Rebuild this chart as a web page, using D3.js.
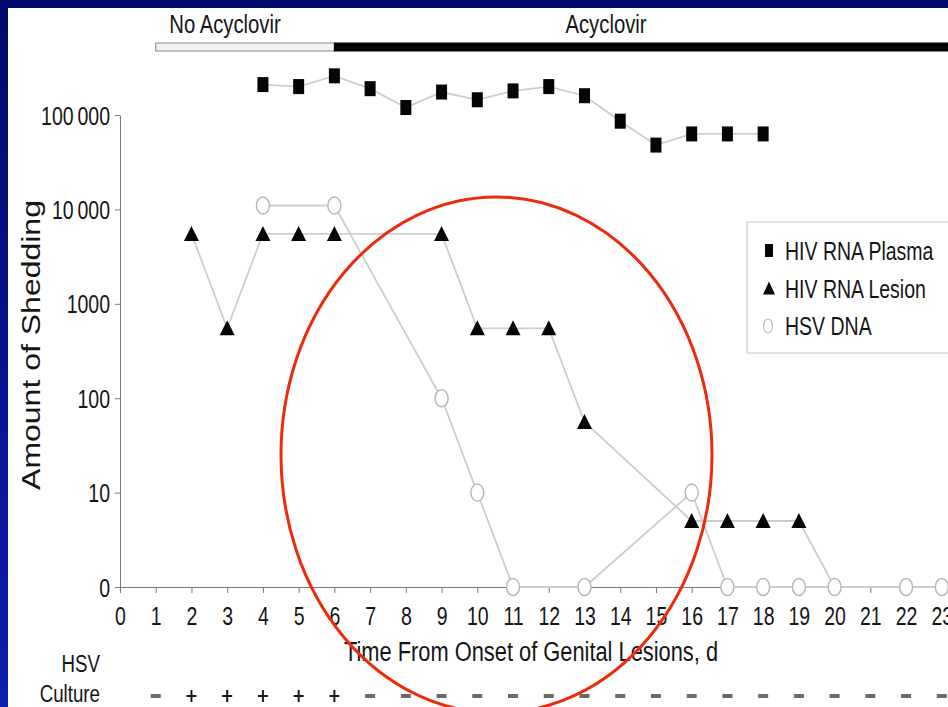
<!DOCTYPE html>
<html>
<head>
<meta charset="utf-8">
<script src="https://cdn.jsdelivr.net/npm/d3@7"></script>
<style>
  body { margin: 0; background: #fff; }
  text { font-family: "Liberation Sans", Arial, Helvetica, sans-serif; fill: #151515; }
</style>
</head>
<body>
<div id="chart"></div>
<script>
// ---- data ----
var tickDays = [0,1,2,3,4,5,6,7,8,9,10,11,12,13,14,15,16,17,18,19,20,21,22,23];
var yTicks = [1, 10, 100, 1000, 10000, 100000];
var yTickLabels = ["0", "10", "100", "1000", "10\u2009000", "100\u2009000"];

var plasmaDays = [4,5,6,7,8,9,10,11,12,13,14,15,16,17,18];
var plasmaVals = [210000,200000,260000,190000,120000,175000,145000,180000,200000,160000,86000,48000,63000,63000,63000];

var lesionDays = [2,3,4,5,6,9,10,11,12,13,16,17,18,19,20];
var lesionVals = [5500,550,5500,5500,5500,5500,550,550,550,56,5,5,5,5,0];

var hsvDays = [4,6,9,10,11,13,16,17,18,19,20,22,23];
var hsvVals = [11000,11000,100,10,0,0,10,0,0,0,0,0,0];

var cultureDays = [1,2,3,4,5,6,7,8,9,10,11,12,13,14,15,16,17,18,19,20,21,22,23];
var cultureVals = ["-","+","+","+","+","+","-","-","-","-","-","-","-","-","-","-","-","-","-","-","-","-","-"];

var treatLabels = ["No Acyclovir", "Acyclovir"];
var treatStart = [1, 6];
var treatEnd = [6, 24];

var legendNames = ["HIV RNA Plasma", "HIV RNA Lesion", "HSV DNA"];

// ---- layout ----
var W = 948, H = 707;
var SX = 0.78; // the slide image is squeezed horizontally

var svg = d3.select("#chart").append("svg")
    .attr("width", W).attr("height", H);

var defs = svg.append("defs");
var grad = defs.append("linearGradient").attr("id", "blueBg")
    .attr("x1", 0).attr("y1", 0).attr("x2", 0).attr("y2", 1);
grad.append("stop").attr("offset", "0%").attr("stop-color", "#000a6c");
grad.append("stop").attr("offset", "100%").attr("stop-color", "#0c1fae");

svg.append("rect").attr("width", W).attr("height", H).attr("fill", "url(#blueBg)");
svg.append("rect").attr("x", 8).attr("y", 8).attr("width", W - 8).attr("height", H - 8).attr("fill", "#fff");

var x = d3.scaleLinear().domain([0, 23]).range([120, 941.8]);
var y = d3.scaleLog().domain([1, 100000]).range([587, 115]);
function yv(v) { return y(v < 1 ? 1 : v); }

// condensed text helper
function txt(g, px, py, s, size, anchor) {
    return g.append("text")
        .attr("transform", "translate(" + px + "," + py + ") scale(" + SX + ",1)")
        .attr("font-size", size)
        .attr("text-anchor", anchor || "middle")
        .text(s);
}

// treatment bars
var treat = svg.append("g");
treat.selectAll("rect")
    .data(treatLabels)
    .enter().append("rect")
    .attr("x", function (d, i) { return x(treatStart[i]); })
    .attr("y", 43)
    .attr("width", function (d, i) { return x(treatEnd[i]) - x(treatStart[i]); })
    .attr("height", 8)
    .attr("fill", function (d, i) { return i == 0 ? "#f2f2f2" : "#050505"; })
    .attr("stroke", function (d, i) { return i == 0 ? "#8a8a8a" : "#050505"; })
    .attr("stroke-width", 1);
var treatLabelX = [225, 606];
treatLabels.forEach(function (d, i) { txt(treat, treatLabelX[i], 33, d, 26); });

// axes
var axisColor = "#7a7a7a";
var xAxis = svg.append("g")
    .attr("transform", "translate(0," + y(1) + ")")
    .call(d3.axisBottom(x).tickValues(tickDays).tickFormat(d3.format("d")).tickSizeInner(6).tickSizeOuter(0));
xAxis.select(".domain").attr("stroke", axisColor).attr("d", "M120,0.5H" + W);
xAxis.selectAll(".tick line").attr("stroke", axisColor);
xAxis.selectAll(".tick text")
    .attr("y", 0).attr("dy", null)
    .attr("transform", "translate(0,38) scale(" + SX + ",1)")
    .attr("font-size", 25).attr("fill", "#151515");

var yAxis = svg.append("g")
    .attr("transform", "translate(" + x(0) + ",0)")
    .call(d3.axisLeft(y).tickValues(yTicks).tickFormat(function (d, i) { return yTickLabels[i]; }).tickSizeInner(5).tickSizeOuter(0));
yAxis.select(".domain").attr("stroke", axisColor);
yAxis.selectAll(".tick line").attr("stroke", axisColor);
yAxis.selectAll(".tick text")
    .attr("x", 0).attr("dy", null)
    .attr("transform", "translate(-10,9) scale(" + SX + ",1)")
    .attr("font-size", 25).attr("fill", "#151515");

// axis titles
txt(svg, 531, 661, "Time From Onset of Genital Lesions, d", 28);
svg.append("text")
    .attr("transform", "translate(40,345) scale(" + SX + ",1) rotate(-90)")
    .attr("font-size", 32)
    .attr("text-anchor", "middle")
    .text("Amount of Shedding");

// series
var lineColor = "#cdcdcd";
function pts(days, vals) { return days.map(function (d, i) { return { day: d, val: vals[i] }; }); }
var plasma = pts(plasmaDays, plasmaVals);
var lesion = pts(lesionDays, lesionVals);
var hsv = pts(hsvDays, hsvVals);

var line = d3.line().x(function (d) { return x(d.day); }).y(function (d) { return yv(d.val); });

var plot = svg.append("g");
[hsv, lesion, plasma].forEach(function (s) {
    plot.append("path").datum(s)
        .attr("d", line)
        .attr("fill", "none")
        .attr("stroke", lineColor)
        .attr("stroke-width", 1.8);
});

plot.selectAll(".sq").data(plasma).enter().append("rect")
    .attr("class", "sq")
    .attr("x", function (d) { return x(d.day) - 5.5; })
    .attr("y", function (d) { return yv(d.val) - 7.5; })
    .attr("width", 11).attr("height", 15)
    .attr("fill", "#050505");

var triPath = "M0,-8L7.5,7L-7.5,7Z";
plot.selectAll(".tri").data(lesion.filter(function (d) { return d.val > 0; })).enter().append("path")
    .attr("class", "tri")
    .attr("d", triPath)
    .attr("transform", function (d) { return "translate(" + x(d.day) + "," + yv(d.val) + ")"; })
    .attr("fill", "#050505");

plot.selectAll(".circ").data(hsv).enter().append("ellipse")
    .attr("class", "circ")
    .attr("cx", function (d) { return x(d.day); })
    .attr("cy", function (d) { return yv(d.val); })
    .attr("rx", 6.5).attr("ry", 8.5)
    .attr("fill", "#fff")
    .attr("stroke", "#b8b8b8")
    .attr("stroke-width", 1.5);

// legend
var legend = svg.append("g");
legend.append("rect")
    .attr("x", 747).attr("y", 222).attr("width", 230).attr("height", 131)
    .attr("fill", "#fff").attr("stroke", "#cfcfcf").attr("stroke-width", 1.2);
var legY = d3.scalePoint().domain(legendNames).range([251, 326]);
legend.append("rect").attr("x", 765).attr("y", legY(legendNames[0]) - 7).attr("width", 8).attr("height", 13).attr("fill", "#050505");
legend.append("path").attr("d", "M0,-7L6,6L-6,6Z")
    .attr("transform", "translate(769," + legY(legendNames[1]) + ")").attr("fill", "#050505");
legend.append("ellipse").attr("cx", 768).attr("cy", legY(legendNames[2])).attr("rx", 4.5).attr("ry", 7)
    .attr("fill", "#fff").attr("stroke", "#b8b8b8").attr("stroke-width", 1.2);
legendNames.forEach(function (d) { txt(legend, 785, legY(d) + 9, d, 25, "start"); });

// HSV culture row
var cult = svg.append("g");
txt(cult, 100, 672, "HSV", 24, "end");
txt(cult, 100, 702, "Culture", 24, "end");
var cy0 = 696;
cult.selectAll(".minus").data(cultureDays.filter(function (d, i) { return cultureVals[i] == "-"; }))
    .enter().append("rect")
    .attr("x", function (d) { return x(d) - 5; })
    .attr("y", cy0 - 2)
    .attr("width", 10).attr("height", 4)
    .attr("fill", "#6a6a6a");
cult.selectAll(".plus").data(cultureDays.filter(function (d, i) { return cultureVals[i] == "+"; }))
    .enter().append("path")
    .attr("d", "M-5,0H5M0,-6V6")
    .attr("transform", function (d) { return "translate(" + x(d) + "," + cy0 + ")"; })
    .attr("stroke", "#1a1a1a").attr("stroke-width", 2);

// red annotation ellipse
svg.append("ellipse")
    .attr("cx", 496.5).attr("cy", 455).attr("rx", 215.5).attr("ry", 258)
    .attr("fill", "none").attr("stroke", "#ee2a0e").attr("stroke-width", 3);
</script>
</body>
</html>
